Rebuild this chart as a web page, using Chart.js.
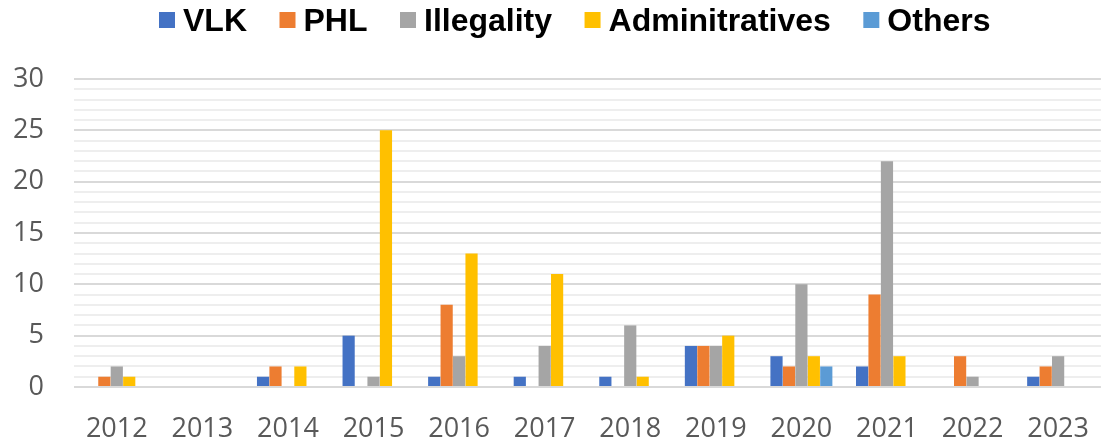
<!DOCTYPE html>
<html><head><meta charset="utf-8">
<script src="https://cdn.jsdelivr.net/npm/chart.js@4/dist/chart.umd.min.js"></script>
<style>html,body{margin:0;padding:0;background:#fff}#wrap{width:1107px;height:443px}</style>
</head><body><div id="wrap"><canvas id="c"></canvas></div>
<script>
const categories = ['2012','2013','2014','2015','2016','2017','2018','2019','2020','2021','2022','2023'];
const vlk = [0,0,1,5,1,1,1,4,3,2,0,1];
const phl = [1,0,2,0,8,0,0,4,2,9,3,2];
const illegality = [2,0,0,1,3,4,6,4,10,22,1,3];
const adminitratives = [1,0,2,25,13,11,1,5,3,3,0,0];
const others = [0,0,0,0,0,0,0,0,2,0,0,0];

const mk = (label, data, color) => ({label, data, backgroundColor: color, borderWidth: 0, categoryPercentage: 0.727, barPercentage: 0.98});

const legendPlugin = {
  id: 'customLegend',
  afterDraw(chart) {
    const ctx = chart.ctx;
    ctx.save();
    ctx.font = 'bold 32px "Liberation Sans"';
    ctx.textBaseline = 'alphabetic';
    ctx.textAlign = 'left';
    let x = 159;
    chart.data.datasets.forEach(ds => {
      ctx.fillStyle = ds.backgroundColor;
      ctx.fillRect(x, 12, 16, 16);
      ctx.fillStyle = '#000';
      ctx.fillText(ds.label, x + 24, 31);
      x += 24 + ctx.measureText(ds.label).width + 32.5;
    });
    ctx.restore();
  }
};

new Chart(document.getElementById('c'), {
  type: 'bar',
  data: {
    labels: categories,
    datasets: [
      mk('VLK', vlk, '#4472C4'),
      mk('PHL', phl, '#ED7D31'),
      mk('Illegality', illegality, '#A5A5A5'),
      mk('Adminitratives', adminitratives, '#FFC000'),
      mk('Others', others, '#5B9BD5')
    ]
  },
  plugins: [legendPlugin],
  options: {
    responsive: true, maintainAspectRatio: false, animation: false,
    layout: {padding: {left: 0, right: 0, top: 79, bottom: 0}},
    plugins: {legend: {display: false}, tooltip: {enabled: false}},
    scales: {
      x: {grid: {display: false}, border: {display: false},
          afterFit: s => { s.height = 56; },
          ticks: {font: {family: 'Open Sans', size: 27}, color: '#595959', padding: 18}},
      y: {min: 0, max: 30, border: {display: false},
          afterFit: s => { s.width = 74; },
          grid: {color: ctx => (ctx.tick.value % 5 === 0 ? '#D9D9D9' : '#EEEEEE'), lineWidth: 2, drawTicks: false},
          ticks: {stepSize: 1, autoSkip: false, padding: 30, color: '#595959',
                  font: {family: 'Open Sans', size: 27},
                  callback: v => (v % 5 === 0 ? v : '')}}
    }
  }
});
</script></body></html>
